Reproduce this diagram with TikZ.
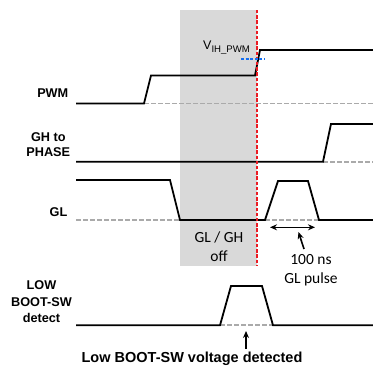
\documentclass[tikz,border=0pt]{standalone}
\usepackage{fontspec}
\setmainfont{Liberation Sans}
\newfontfamily\calfont{Carlito}
\usetikzlibrary{arrows.meta}
\definecolor{boxgray}{RGB}{217,217,217}
\definecolor{basegray}{RGB}{170,170,170}
\definecolor{redline}{RGB}{235,28,36}
\definecolor{blueline}{RGB}{20,110,240}
\tikzset{
  sig/.style={line width=1.8pt, line join=miter},
  base/.style={line width=1.8pt, basegray, dash pattern=on 4.5pt off 2.5pt},
  lbl/.style={font=\fontsize{12.7}{15}\selectfont\bfseries, inner sep=0pt},
  cal/.style={font=\calfont\fontsize{15.5}{19.5}\selectfont, inner sep=0pt, align=center},
  arr/.style={line width=1.6pt, -{Stealth[length=7pt,width=6pt]}},
}
\begin{document}
\begin{tikzpicture}[x=1pt,y=-1pt]
\useasboundingbox (0,0) rectangle (373,368);
% shaded region
\fill[boxgray] (180,10) rectangle (257,266);
% baselines
\draw[base] (144,103.5) -- (373,103.5);
\draw[base] (323,161.7) -- (373,161.7);
\draw[base] (76,220) -- (180,220);
\draw[base] (265,220) -- (319,220);
\draw[base] (220,325.3) -- (273,325.3);
% signals
\draw[sig] (76,103.5) -- (144,103.5) -- (151,75.5) -- (255,75.5) -- (260,50) -- (373,50);
\draw[sig] (76,161.7) -- (323,161.7) -- (331,124) -- (373,124);
\draw[sig] (76,180) -- (170,180) -- (180,220) -- (265,220) -- (278,181) -- (308,181) -- (319,220) -- (373,220);
\draw[sig] (76,325.3) -- (220,325.3) -- (231,286) -- (262,286) -- (273,325.3) -- (373,325.3);
% red threshold line
\draw[redline, line width=1.8pt, dash pattern=on 3.4pt off 1.8pt] (257,10) -- (257,266);
% blue VIH marker
\draw[blueline, line width=1.8pt, dash pattern=on 3pt off 1.6pt] (241,58.7) -- (265,58.7);
% labels
\node[inner sep=0pt, anchor=base west] (vih) at (203,49)
  {\fontsize{12.5}{14}\selectfont V\raisebox{-3.7pt}{\fontsize{9.6}{11}\selectfont IH\_PWM}};
\node[lbl, anchor=east] (pwm) at (68.5,93.3) {PWM};
\node[lbl, align=center] (gh) at (48.3,144.2) {GH to\\PHASE};
\node[lbl, anchor=east] (gl) at (67.5,211.7) {GL};
\node[lbl, align=center, font=\fontsize{12.7}{16.5}\selectfont\bfseries] (low) at (41.5,301.8) {LOW\\BOOT-SW\\detect};
\node[cal] (off) at (219,246.5) {GL / GH\\off};
\node[cal] (pulse) at (311,270) {100 ns\\GL pulse};
\node[inner sep=0pt, font=\fontsize{14.5}{17}\selectfont\bfseries] (det) at (192,359) {Low BOOT-SW voltage detected};
% arrows
\coordinate (pa) at (270,227.3);
\coordinate (pb) at (315,227.3);
\draw[line width=1.6pt, {Stealth[length=7pt,width=6pt]}-{Stealth[length=7pt,width=6pt]}] (pa) -- (pb);
\coordinate (qa) at (304,249);
\coordinate (qb) at (298.5,232);
\draw[arr] (qa) -- (qb);
\coordinate (ra) at (246,349);
\coordinate (rb) at (246,331);
\draw[arr] (ra) -- (rb);
\end{tikzpicture}
\end{document}
